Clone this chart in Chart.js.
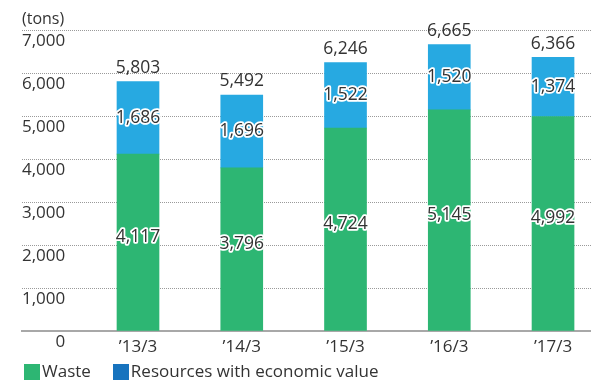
<!DOCTYPE html>
<html>
<head>
<meta charset="utf-8">
<script src="https://cdn.jsdelivr.net/npm/chart.js@4"></script>
<style>
  html, body { margin: 0; padding: 0; background: #fff; overflow: hidden; }
  .chart-wrap { position: relative; width: 591px; height: 381px; }
</style>
</head>
<body>
<div class="chart-wrap"><canvas id="wasteChart"></canvas></div>
<script>
// Data
const categories = ['\u201913/3', '\u201914/3', '\u201915/3', '\u201916/3', '\u201917/3'];
const waste = [4117, 3796, 4724, 5145, 4992];
const resources = [1686, 1696, 1522, 1520, 1374];
const seriesNames = ['Waste', 'Resources with economic value'];
const yMax = 7000;
const yStep = 1000;

const barColors = ['#2db673', '#27a9e1'];
const legendColors = ['#2db673', '#1773be'];
const textColor = '#333333';
const fontFamily = '"Open Sans", "Noto Sans", sans-serif';

const fmt = v => v.toLocaleString('en-US');

// 16px square swatch for the legend (lets the text sit close to the box)
function swatch(color) {
  const c = document.createElement('canvas');
  c.width = 16;
  c.height = 16;
  const g = c.getContext('2d');
  g.fillStyle = color;
  g.fillRect(0, 0, 16, 16);
  return c;
}

// Segment values inside the bars + totals on top
const valueLabels = {
  id: 'valueLabels',
  afterDatasetsDraw(chart) {
    const ctx = chart.ctx;
    ctx.save();
    ctx.font = '17.5px ' + fontFamily;
    ctx.textAlign = 'center';
    ctx.textBaseline = 'middle';
    ctx.lineJoin = 'round';
    chart.data.datasets.forEach((ds, di) => {
      chart.getDatasetMeta(di).data.forEach((bar, i) => {
        const y = (bar.y + bar.base) / 2 - (di === 0 ? 5 : 0);
        const txt = fmt(ds.data[i].y);
        ctx.lineWidth = 3.5;
        ctx.strokeStyle = '#ffffff';
        ctx.strokeText(txt, bar.x, y);
        ctx.fillStyle = textColor;
        ctx.fillText(txt, bar.x, y);
      });
    });
    const topMeta = chart.getDatasetMeta(chart.data.datasets.length - 1);
    topMeta.data.forEach((bar, i) => {
      ctx.fillStyle = textColor;
      ctx.fillText(fmt(waste[i] + resources[i]), bar.x, bar.y - 13.5);
    });
    ctx.restore();
  }
};

new Chart(document.getElementById('wasteChart'), {
  type: 'bar',
  data: {
    datasets: [
      {
        label: seriesNames[0],
        data: waste.map((v, i) => ({ x: i, y: v })),
        backgroundColor: barColors[0],
        borderWidth: 0,
        barThickness: 42
      },
      {
        label: seriesNames[1],
        data: resources.map((v, i) => ({ x: i, y: v })),
        backgroundColor: barColors[1],
        borderWidth: 0,
        barThickness: 42
      }
    ]
  },
  options: {
    responsive: true,
    maintainAspectRatio: false,
    animation: false,
    layout: {
      padding: { left: 2, right: 0, top: 0, bottom: -9.5 }
    },
    scales: {
      x: {
        type: 'linear',
        stacked: true,
        offset: false,
        min: -1.118,
        max: 4.366,
        grid: { display: false, drawTicks: false },
        border: { display: true, color: '#a8a8a8', width: 2 },
        afterFit: axis => { axis.height = 4; },
        afterBuildTicks: axis => {
          axis.ticks = categories.map((c, i) => ({ value: i }));
        },
        ticks: {
          autoSkip: false,
          maxRotation: 0,
          // mirrored so the labels are not clipped by the thin axis box
          mirror: true,
          padding: -26.5,
          color: textColor,
          font: { family: fontFamily, size: 17 },
          callback: v => categories[v] !== undefined ? categories[v] : ''
        }
      },
      y: {
        stacked: true,
        min: 0,
        max: yMax,
        afterFit: axis => { axis.width = 20; },
        grid: {
          color: '#9a9a9a',
          lineWidth: 1,
          drawTicks: false
        },
        border: { display: false, dash: [1, 1] },
        ticks: {
          stepSize: yStep,
          mirror: true,
          crossAlign: 'far',
          padding: 0,
          labelOffset: 11,
          color: textColor,
          font: { family: fontFamily, size: 17 },
          callback: v => fmt(v)
        }
      }
    },
    plugins: {
      title: {
        display: true,
        text: '(tons)',
        align: 'start',
        fullSize: false,
        color: textColor,
        font: { family: fontFamily, size: 16, weight: 'normal' },
        padding: { top: 10, bottom: 1 }
      },
      legend: {
        position: 'bottom',
        align: 'start',
        labels: {
          usePointStyle: true,
          pointStyleWidth: 3,
          boxHeight: 16,
          padding: 28.5,
          color: textColor,
          font: { family: fontFamily, size: 17 },
          generateLabels: chart => {
            const items = Chart.defaults.plugins.legend.labels.generateLabels(chart);
            items.forEach((it, i) => {
              it.pointStyle = swatch(legendColors[i]);
              it.fillStyle = legendColors[i];
              it.strokeStyle = legendColors[i];
              it.lineWidth = 0;
            });
            return items;
          }
        }
      },
      tooltip: { enabled: false }
    }
  },
  plugins: [valueLabels]
});
</script>
</body>
</html>
